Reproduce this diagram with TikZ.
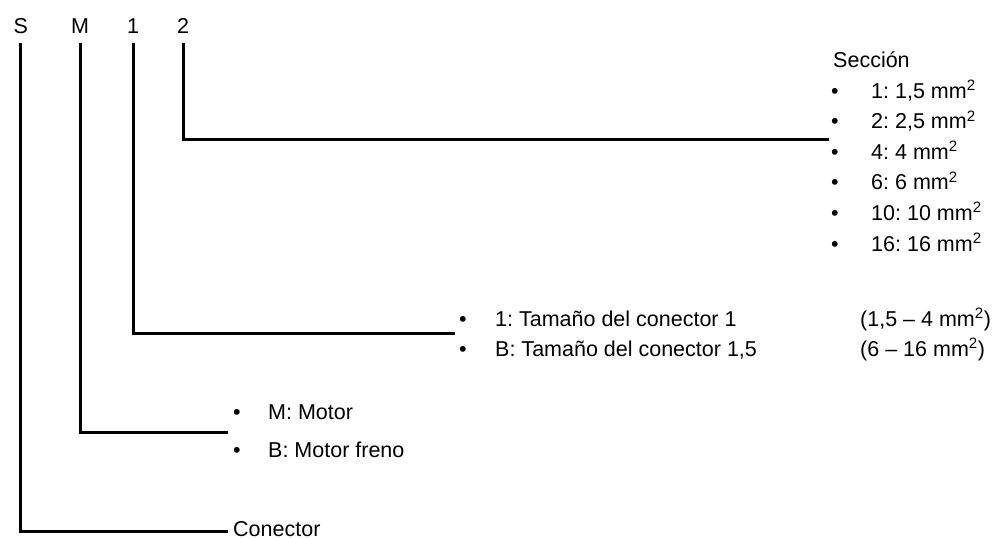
\documentclass[tikz,border=0pt]{standalone}
\usepackage{fontspec}
\setmainfont{Liberation Sans}
\frenchspacing
\begin{document}
\begin{tikzpicture}[x=1pt,y=-1pt,
  txt/.style={inner sep=0pt, anchor=base west, font=\fontsize{21.5}{25}\selectfont},
  bul/.style={inner sep=0pt, anchor=base, font=\fontsize{21.5}{25}\selectfont},
  lead/.style={line width=3pt, line join=miter}]
\useasboundingbox (0,0) rectangle (996,538);
% top letters
\node[bul] (lS) at (20.7,33) {S};
\node[bul] (lM) at (80,33) {M};
\node[bul] (l1) at (133,33) {1};
\node[bul] (l2) at (183,33) {2};
\coordinate (tS) at (20.7,43);
\coordinate (tM) at (80,43);
\coordinate (t1) at (133,43);
\coordinate (t2) at (183,43);
% Seccion list
\node[txt] (sec) at (833,67.4) {Sección};
\foreach \i/\t in {0/{1: 1,5 mm\textsuperscript{2}},1/{2: 2,5 mm\textsuperscript{2}},2/{4: 4 mm\textsuperscript{2}},3/{6: 6 mm\textsuperscript{2}},4/{10: 10 mm\textsuperscript{2}},5/{16: 16 mm\textsuperscript{2}}}{
  \node[bul] (sb\i) at (835,98+30.6*\i) {•};
  \node[txt] (st\i) at (871,98+30.6*\i) {\t};
}
\coordinate (e2) at (829,139);
% size list
\node[bul] (cb1) at (463,326) {•};
\node[txt] (ct1) at (495,326) {1: Tamaño del conector 1};
\node[txt] (cp1) at (860,326) {(1,5 – 4 mm\textsuperscript{2})};
\node[bul] (cb2) at (463,356) {•};
\node[txt] (ct2) at (495,356) {B: Tamaño del conector 1,5};
\node[txt] (cp2) at (860,356) {(6 – 16 mm\textsuperscript{2})};
\coordinate (e1) at (455,333);
% motor list
\node[bul] (mb1) at (237,419) {•};
\node[txt] (mt1) at (268,419) {M: Motor};
\node[bul] (mb2) at (237,457) {•};
\node[txt] (mt2) at (268,457) {B: Motor freno};
\coordinate (eM) at (228,432);
% conector
\node[txt] (con) at (233,536) {Conector};
\coordinate (eS) at (228,531);
% leaders
\draw[lead] (t2) |- (e2);
\draw[lead] (t1) |- (e1);
\draw[lead] (tM) |- (eM);
\draw[lead] (tS) |- (eS);
\end{tikzpicture}
\end{document}
